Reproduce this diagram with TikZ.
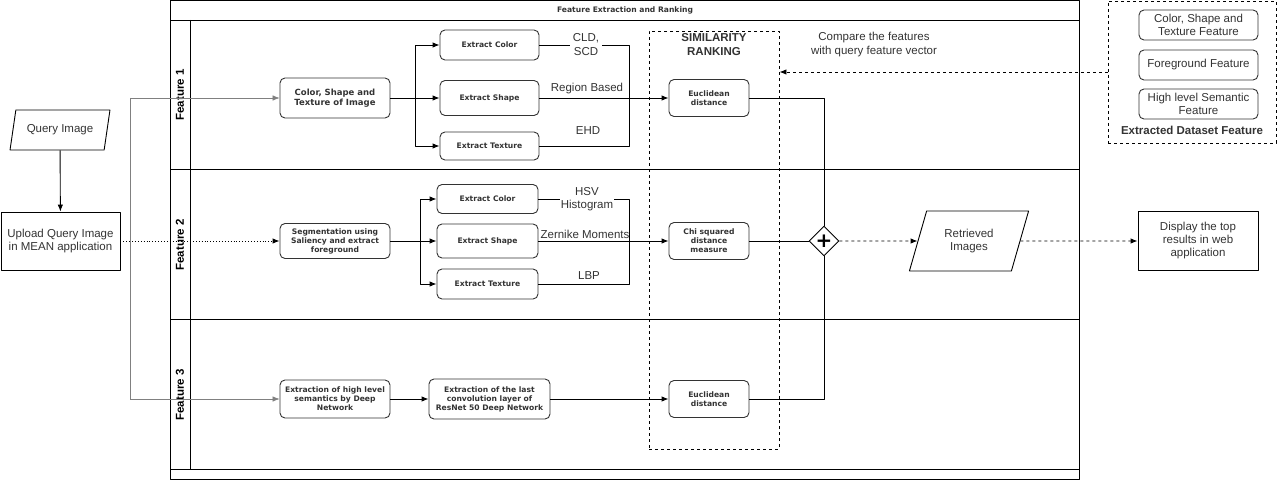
\documentclass[tikz,border=0pt]{standalone}
\usepackage{fontspec}
\setmainfont{Liberation Sans}
\newfontfamily\verd{DejaVu Sans}
\usepackage{tikz}
\usetikzlibrary{arrows,arrows.meta,shapes}
\definecolor{txt}{HTML}{333333}

\begin{document}
\begin{tikzpicture}[>={Latex[length=7pt,width=5.5pt]},line join=bevel,x=1pt,y=-1pt,line width=0.9pt,
  task/.style={draw=txt,rounded corners=5pt,fill=white,align=center,inner sep=1pt,
    font=\verd\bfseries\fontsize{7.6}{9}\selectfont,text=txt},
  feat/.style={draw=txt,rounded corners=5pt,align=center,inner sep=1pt,
    minimum width=119,minimum height=30,font=\fontsize{11.5}{13}\selectfont,text=txt},
  proc/.style={draw,align=center,inner sep=1pt,font=\fontsize{11.5}{13}\selectfont,text=txt},
  io/.style={draw,trapezium,trapezium left angle=70,trapezium right angle=110,
    trapezium stretches=true,align=center,inner sep=1pt,font=\fontsize{11.5}{13}\selectfont,text=txt},
  lbl/.style={align=center,inner sep=1pt,font=\fontsize{11.5}{14}\selectfont,text=txt},
  lane/.style={font=\bfseries\fontsize{11.5}{13}\selectfont,rotate=90},
  dsh/.style={dash pattern=on 3pt off 3pt},
]
\useasboundingbox (0,0) rectangle (1281,481);
%% pool and lanes
\draw (170,0) rectangle (1079,479);
\draw (170,20) -- (1079,20);
\draw (190,20) -- (190,469);
\draw (170,169) -- (1079,169);
\draw (170,319) -- (1079,319);
\draw (170,469) -- (1079,469);
\node[font=\verd\bfseries\fontsize{7.6}{9}\selectfont,text=txt] (ttl) at (625,10) {Feature Extraction and Ranking};
\node[lane] (L1) at (180,95) {Feature 1};
\node[lane] (L2) at (180,245) {Feature 2};
\node[lane] (L3) at (180,395) {Feature 3};
\node[draw,dsh,minimum width=130,minimum height=418] (SIM) at (714,240) {};
\node[lbl,font=\bfseries\fontsize{11.5}{14}\selectfont] (simt) at (714,45) {SIMILARITY\\RANKING};
\node[lbl] (cmp) at (874,45) {Compare the features\\with query feature vector};
%% query
\node[io,minimum width=100,minimum height=40] (QI) at (60,130) {Query Image};
\node[proc,minimum width=119,minimum height=58] (UP) at (60.5,241) {Upload Query Image\\in MEAN application};
\draw[->] (QI) -- (UP);
\coordinate (t1) at (130,98);
\coordinate (t3) at (130,399);
\draw[gray,line width=0.6pt] (t1) -- (t3);
%% feature 1
\node[task,minimum width=110,minimum height=40,font=\verd\bfseries\fontsize{8.5}{10}\selectfont] (CST) at (335,98) {Color, Shape and\\Texture of Image};
\node[task,minimum width=99,minimum height=30] (EC1) at (489.5,45) {Extract Color};
\node[task,minimum width=99,minimum height=35] (ES1) at (489.5,98) {Extract Shape};
\node[task,minimum width=99,minimum height=28] (ET1) at (489.5,146) {Extract Texture};
\node[task,minimum width=80,minimum height=37] (EU1) at (709,98) {Euclidean\\distance};
\coordinate (b1) at (415,98);
\coordinate (j1) at (629,146);
\draw[->,gray,line width=0.6pt] (t1) -- (CST);
\draw[->] (CST) -- (ES1);
\draw[->] (b1) |- (EC1);
\draw[->] (b1) |- (ET1);
\draw[->] (ES1) -- (EU1);
\draw (EC1) -| (j1) -- (ET1);
\node[lbl,fill=white,inner xsep=3pt] (cs) at (586,45) {CLD,\\SCD};
\node[lbl] (rb) at (587,89) {Region Based};
\node[lbl] (ehd) at (588,131) {EHD};
%% feature 2
\node[task,minimum width=110,minimum height=35] (SEG) at (335,241) {Segmentation using\\Saliency and extract\\foreground};
\node[task,minimum width=101,minimum height=29] (EC2) at (487.5,199) {Extract Color};
\node[task,minimum width=101,minimum height=34] (ES2) at (487.5,241) {Extract Shape};
\node[task,minimum width=101,minimum height=30] (ET2) at (487.5,284) {Extract Texture};
\node[task,minimum width=80,minimum height=37] (CHI) at (709,241) {Chi squared\\distance\\measure};
\coordinate (b2) at (420,241);
\coordinate (j2) at (629,284);
\draw[->,dotted] (UP) -- (SEG);
\draw[->] (SEG) -- (ES2);
\draw[->] (b2) |- (EC2);
\draw[->] (b2) |- (ET2);
\draw[->] (ES2) -- (CHI);
\draw (EC2) -| (j2) -- (ET2);
\node[lbl,fill=white,font=\fontsize{11.5}{13}\selectfont] (hsv) at (587,199) {HSV\\Histogram};
\node[lbl] (zm) at (585,234) {Zernike Moments};
\node[lbl] (lbp) at (589,276) {LBP};
%% feature 3
\node[task,minimum width=110,minimum height=38] (HLS) at (335,399) {Extraction of high level\\semantics by Deep\\Network};
\node[task,minimum width=121,minimum height=40] (RES) at (489.5,399) {Extraction of the last\\convolution layer of\\ResNet 50 Deep Network};
\node[task,minimum width=80,minimum height=37] (EU3) at (709,399) {Euclidean\\distance};
\draw[->,gray,line width=0.6pt] (t3) -- (HLS);
\draw[->] (HLS) -- (RES);
\draw[->] (RES) -- (EU3);
%% merge and output
\node[draw,diamond,aspect=1,minimum size=30,inner sep=0pt,fill=white,
  font=\verd\bfseries\fontsize{20}{20}\selectfont] (PL) at (824,241) {+};
\draw (EU1) -| (PL);
\draw (CHI) -- (PL);
\draw (EU3) -| (PL);
\node[io,trapezium left angle=68,trapezium right angle=112,minimum width=120,minimum height=60] (RET) at (969,241) {Retrieved\\Images};
\node[proc,minimum width=120,minimum height=59] (DISP) at (1198,241) {Display the top\\results in web\\application};
\draw[->,dsh] (PL) -- (RET);
\draw[->,dsh] (RET) -- (DISP);
%% dataset features
\node[draw,dsh,minimum width=168,minimum height=142] (DS) at (1192,72) {};
\node[feat] (DS1) at (1198.5,25) {Color, Shape and\\Texture Feature};
\node[feat] (DS2) at (1198.5,65) {Foreground Feature};
\node[feat] (DS3) at (1198.5,104) {High level Semantic\\Feature};
\node[lbl,font=\bfseries\fontsize{11.5}{13}\selectfont] (dst) at (1192,130) {Extracted Dataset Feature};
\draw[->,dsh] (DS.west) -- (DS.west -| SIM.east);
%
\end{tikzpicture}
\end{document}
